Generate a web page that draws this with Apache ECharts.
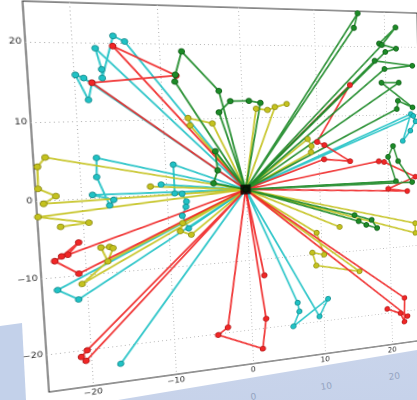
<!DOCTYPE html>
<html>
<head>
<meta charset="utf-8">
<script src="https://cdn.jsdelivr.net/npm/echarts@6/dist/echarts.min.js"></script>
<style>
  html, body { margin: 0; padding: 0; width: 417px; height: 400px; overflow: hidden; background: #ffffff; }
  .panel { position: absolute; left: 0; top: 0; width: 417px; height: 400px; }
  #stripLeft { background: #c3d1ea; clip-path: polygon(0 326px, 22px 323px, 26px 400px, 0 400px); }
  #bandBottom { background: linear-gradient(175deg, #e4eaf5 0%, #cfd9ec 60%, #c6d2ea 100%);
                clip-path: polygon(118px 400px, 417px 350px, 417px 400px); }
  .under { position: absolute; font: 9px "DejaVu Sans", sans-serif; color: #8493b3; opacity: 0.75;
           transform: rotate(-8deg); transform-origin: 0 0; }
  #chart { position: absolute; left: 0; top: 0; width: 480px; height: 470px; transform-origin: 0 0; }
</style>
</head>
<body>
<div class="panel" id="stripLeft"></div>
<div class="panel" id="bandBottom"></div>
<span class="under" style="left:250px;top:392px">0</span>
<span class="under" style="left:320px;top:382px">10</span>
<span class="under" style="left:388px;top:372px">20</span>
<div id="chart"></div>
<script>
// Axis extent and labelled ticks
const axisMin = -25;
const axisMax = 25;
const gridStep = 5;
const xTickLabels = [-20, -10, 0, 10, 20];
const yTickLabels = [-20, -10, 0, 10, 20];

// Every walk leaves from the common origin
const origin = [0, 0];

const cyanWalks = [
  [origin, [-14.0, 20.2], [-15.3, 20.9], [-16.8, 15.5], [-16.8, 16.6], [-17.4, 19.3], origin],
  [origin, [-18.0, 14.9], [-18.5, 12.7], [-19.8, 15.9], [-18.9, 15.5], origin],
  [origin, [23.7, 10.0], [22.4, 6.0], [23.6, 7.5], [24.4, 8.9], [24.1, 9.7], origin],
  [origin, [6.4, -16.9], [6.6, -18.2], [5.7, -20.3], [10.7, -16.8], [9.4, -19.3], origin],
  [origin, [-16.6, -22.5]],
  [origin, [-23.3, -11.7], [-21.0, -13.2], origin],
  [origin, [-18.0, 5.2], [-18.1, 2.7], [-16.8, -1.1], [-16.3, -0.4], [-18.7, 0.4], origin],
  [origin, [-9.0, 3.9], [-9.0, 0.0], [-8.1, -0.1], [-7.6, -1.2], [-7.7, -1.9], [-8.2, -3.1], [-7.5, -4.9], origin],
  [origin, [-10.6, 1.3]]
];

const yellowWalks = [
  [origin, [-6.7, 9.1], [-6.9, 10.1], [-3.9, 9.3], origin],
  [origin, [1.8, 11.2], [3.3, 11.0], [5.9, 11.8], [4.3, 11.4], origin],
  [origin, [8.6, 6.75], [9.1, 5.7], [9.0, 4.85], origin],
  [origin, [24.0, -6.6], [24.0, -8.1], origin],
  [origin, [12.7, -6.3]],
  [origin, [9.4, -6.9], [10.35, -10.2], [8.7, -9.75], [9.2, -11.7], [15.4, -13.2], origin],
  [origin, [-20.5, -11.2], [-17.4, -8.5], [-18.1, -6.6], [-17.1, -6.6], [-16.7, -6.8], [-17.4, -8.5], origin],
  [origin, [-23.7, 5.5], [-24.6, 4.35], [-24.7, 1.55], [-22.8, 0.5], [-24.2, -0.4], origin],
  [origin, [-24.9, -2.05], [-19.3, -3.2], [-22.5, -3.5]],
  [origin, [-11.9, 1.1]],
  [origin, [-8.2, -4.1], [-8.55, -5.2], [-7.2, -5.8], origin]
];

const redWalks = [
  [origin, [-18.0, 14.9], [-8.1, 15.8], [-15.4, 19.6], origin],
  [origin, [14.8, 14.4], [9.9, 6.3], [10.9, 5.8], [14.5, 3.3], [10.8, 3.75], origin],
  [origin, [18.7, 3.1], [19.5, 2.95], [24.2, 0.5], [20.0, -1.1], [22.9, -1.6], origin],
  [origin, [22.1, -18.0], [22.0, -21.7], [21.4, -20.3], [19.4, -19.4], [22.5, -20.9], origin],
  [origin, [2.0, -18.7], [1.4, -23.0], [-4.4, -20.2], [-3.1, -19.3], origin],
  [origin, [2.0, -12.4]],
  [origin, [-20.4, -20.1], [-21.1, -20.9], [-20.6, -21.5], origin],
  [origin, [-21.9, -7.2], [-20.6, -5.7], [-22.6, -7.35], [-23.4, -7.9], [-20.8, -9.8], origin]
];

const greenWalks = [
  [origin, [-8.3, 15.0], [-8.2, 15.9], [-7.3, 19.0], [-2.9, 13.7], origin],
  [origin, [-3.0, 10.8], [-1.5, 12.3], [0.9, 12.3], [2.4, 12.0], origin],
  [origin, [16.2, 24.7], [15.6, 22.6], origin],
  [origin, [20.1, 19.2], [21.7, 19.7], [19.2, 20.4], [21.7, 22.8], [19.6, 20.2], origin],
  [origin, [18.5, 17.9], [24.1, 17.2], [19.9, 16.7], origin],
  [origin, [22.0, 14.7], [19.4, 14.7], [24.0, 11.0], [21.8, 12.0], [21.6, 10.8], origin],
  [origin, [23.7, -0.3], [21.6, 3.0], [20.9, 5.3], [20.1, 3.7], [21.2, 0.0], origin],
  [origin, [14.9, -4.7], [17.4, -5.6], [18.2, -6.9], [16.6, -6.3], [15.5, -5.65], origin],
  [origin, [-3.7, 5.5], [-3.5, 2.85], [-4.1, 1.1], origin]
];

const palette = {
  cyan:   { line: '#20c2c5', edge: '#138a8c' },
  yellow: { line: '#c4c21e', edge: '#8c8a10' },
  red:    { line: '#f02626', edge: '#b01818' },
  green:  { line: '#1c8a27', edge: '#0e5a15' }
};

function walkSeries(walk, colors) {
  return {
    type: 'line',
    data: walk,
    symbol: 'circle',
    symbolSize: 6,
    showSymbol: true,
    clip: false,
    silent: true,
    animation: false,
    lineStyle: { color: colors.line, width: 1.9, opacity: 0.9 },
    itemStyle: { color: colors.line, borderColor: colors.edge, borderWidth: 0.8 }
  };
}

const series = [];
cyanWalks.forEach(w => series.push(walkSeries(w, palette.cyan)));
yellowWalks.forEach(w => series.push(walkSeries(w, palette.yellow)));
redWalks.forEach(w => series.push(walkSeries(w, palette.red)));
greenWalks.forEach(w => series.push(walkSeries(w, palette.green)));
series.push({
  type: 'scatter',
  data: [origin],
  symbol: 'rect',
  symbolSize: 11,
  z: 10,
  silent: true,
  animation: false,
  itemStyle: { color: '#000000' }
});

function tickText(list) {
  return v => list.includes(v) ? String(v).replace('-', '\u2212') : '';
}

function valueAxis(labels) {
  return {
    type: 'value',
    min: axisMin,
    max: axisMax,
    interval: gridStep,
    axisLine: { show: false },
    axisTick: { show: false },
    axisLabel: {
      formatter: tickText(labels),
      fontFamily: 'DejaVu Sans',
      fontSize: 8.5,
      color: '#2a2a2a',
      margin: 3,
      showMinLabel: true,
      showMaxLabel: true
    },
    splitLine: {
      show: true,
      lineStyle: { color: ['rgba(0,0,0,0)', '#b4b4b4'], type: [1, 3], width: 1 }
    }
  };
}

const el = document.getElementById('chart');
const chart = echarts.init(el, null, { renderer: 'canvas', devicePixelRatio: 2 });
chart.setOption({
  animation: false,
  backgroundColor: 'rgba(0,0,0,0)',
  grid: { left: 40, top: 20, width: 400, height: 400, show: true, borderColor: '#262626', borderWidth: 1, backgroundColor: '#ffffff' },
  xAxis: valueAxis(xTickLabels),
  yAxis: valueAxis(yTickLabels),
  series: series
});

// Tilt the flat chart into the slanted view with a projective transform
function homography(src, dst) {
  const A = [], b = [];
  for (let i = 0; i < 4; i++) {
    const [x, y] = src[i], [X, Y] = dst[i];
    A.push([x, y, 1, 0, 0, 0, -X * x, -X * y]); b.push(X);
    A.push([0, 0, 0, x, y, 1, -Y * x, -Y * y]); b.push(Y);
  }
  const n = 8;
  for (let c = 0; c < n; c++) {
    let p = c;
    for (let r = c + 1; r < n; r++) if (Math.abs(A[r][c]) > Math.abs(A[p][c])) p = r;
    [A[c], A[p]] = [A[p], A[c]]; [b[c], b[p]] = [b[p], b[c]];
    for (let r = 0; r < n; r++) {
      if (r === c) continue;
      const f = A[r][c] / A[c][c];
      for (let k = c; k < n; k++) A[r][k] -= f * A[c][k];
      b[r] -= f * b[c];
    }
  }
  return b.map((v, i) => v / A[i][i]);
}
const flatCorners = [[40, 20], [440, 20], [40, 420], [440, 420]];
const viewCorners = [[22.5, 1], [417, 13], [49, 392], [424, 340]];
const h = homography(flatCorners, viewCorners);
el.style.transform = 'matrix3d(' + [h[0], h[3], 0, h[6], h[1], h[4], 0, h[7], 0, 0, 1, 0, h[2], h[5], 0, 1].join(',') + ')';
</script>
</body>
</html>
